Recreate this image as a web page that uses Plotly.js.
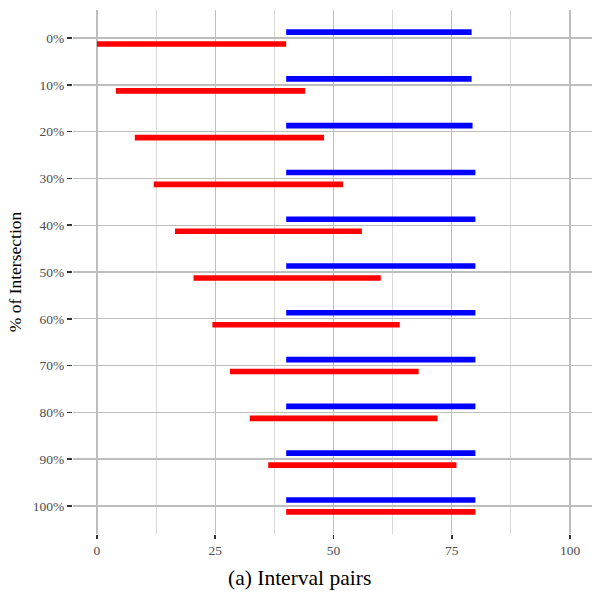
<!DOCTYPE html>
<html>
<head>
<meta charset="utf-8">
<script src="https://cdn.plot.ly/plotly-3.0.1.min.js"></script>
<style>html,body{margin:0;padding:0;background:#fff;}#chart{width:592px;height:597px;}</style>
</head>
<body>
<div id="chart"></div>
<script>
const categories = ['0%','10%','20%','30%','40%','50%','60%','70%','80%','90%','100%'];
const blueStart = [40, 40, 40, 40, 40, 40, 40, 40, 40, 40, 40];
const blueEnd   = [79.2, 79.2, 79.4, 80, 80, 80, 80, 80, 80, 80, 80];
const redStart  = [0, 4, 8, 12, 16.5, 20.4, 24.4, 28.1, 32.3, 36.2, 40];
const redEnd    = [40, 44, 48, 52, 56, 60, 64, 68, 72, 76, 80];
const xTicks = [0, 25, 50, 75, 100];
const xMinor = [12.5, 37.5, 62.5, 87.5];
const xTitle = '(a) Interval pairs';
const yTitle = '% of Intersection';

const barW = 0.12;
const traces = [
  {
    type: 'bar', orientation: 'h', y: categories,
    base: blueStart, x: blueEnd.map((e, i) => e - blueStart[i]),
    offset: -0.128 - barW / 2, width: barW,
    marker: {color: '#0000FF', line: {width: 0}},
    hoverinfo: 'skip', showlegend: false
  },
  {
    type: 'bar', orientation: 'h', y: categories,
    base: redStart, x: redEnd.map((e, i) => e - redStart[i]),
    offset: 0.128 - barW / 2, width: barW,
    marker: {color: '#FF0000', line: {width: 0}},
    hoverinfo: 'skip', showlegend: false
  }
];

const layout = {
  width: 592, height: 597,
  margin: {l: 73, r: 0, t: 10, b: 63},
  paper_bgcolor: '#ffffff', plot_bgcolor: '#ffffff',
  font: {family: 'Liberation Serif, Times New Roman, serif', color: '#4d4d4d', size: 13.5},
  barmode: 'overlay',
  showlegend: false,
  xaxis: {
    range: [-5.07, 104.65],
    tickvals: xTicks, ticktext: xTicks.map(String),
    showgrid: true, gridcolor: '#bebebe', gridwidth: 1.4,
    minor: {tickvals: xMinor, showgrid: true, gridcolor: '#d9d9d9', gridwidth: 1.1, ticks: ''},
    zeroline: false, showline: false,
    ticks: 'outside', ticklen: 4, tickwidth: 1.5, tickcolor: '#333333',
    tickfont: {size: 13.5, color: '#4d4d4d'}
  },
  yaxis: {
    type: 'category',
    categoryorder: 'array', categoryarray: categories,
    autorange: false, range: [10.6, -0.6],
    showgrid: true, gridcolor: '#bebebe', gridwidth: 1.4,
    zeroline: false, showline: false,
    ticks: 'outside', ticklen: 5, tickwidth: 1.5, tickcolor: '#333333',
    tickfont: {size: 13.5, color: '#4d4d4d'},
    title: {text: yTitle, font: {size: 17.5, color: '#000000'}, standoff: 6}
  },
  annotations: [{
    text: xTitle, xref: 'paper', yref: 'paper',
    x: (299 - 73) / 519, y: 0, xanchor: 'center', yanchor: 'middle',
    yshift: -44, showarrow: false,
    font: {size: 21.5, color: '#000000', family: 'Liberation Serif, Times New Roman, serif'}
  }]
};

Plotly.newPlot('chart', traces, layout, {displayModeBar: false, staticPlot: true});
</script>
</body>
</html>
